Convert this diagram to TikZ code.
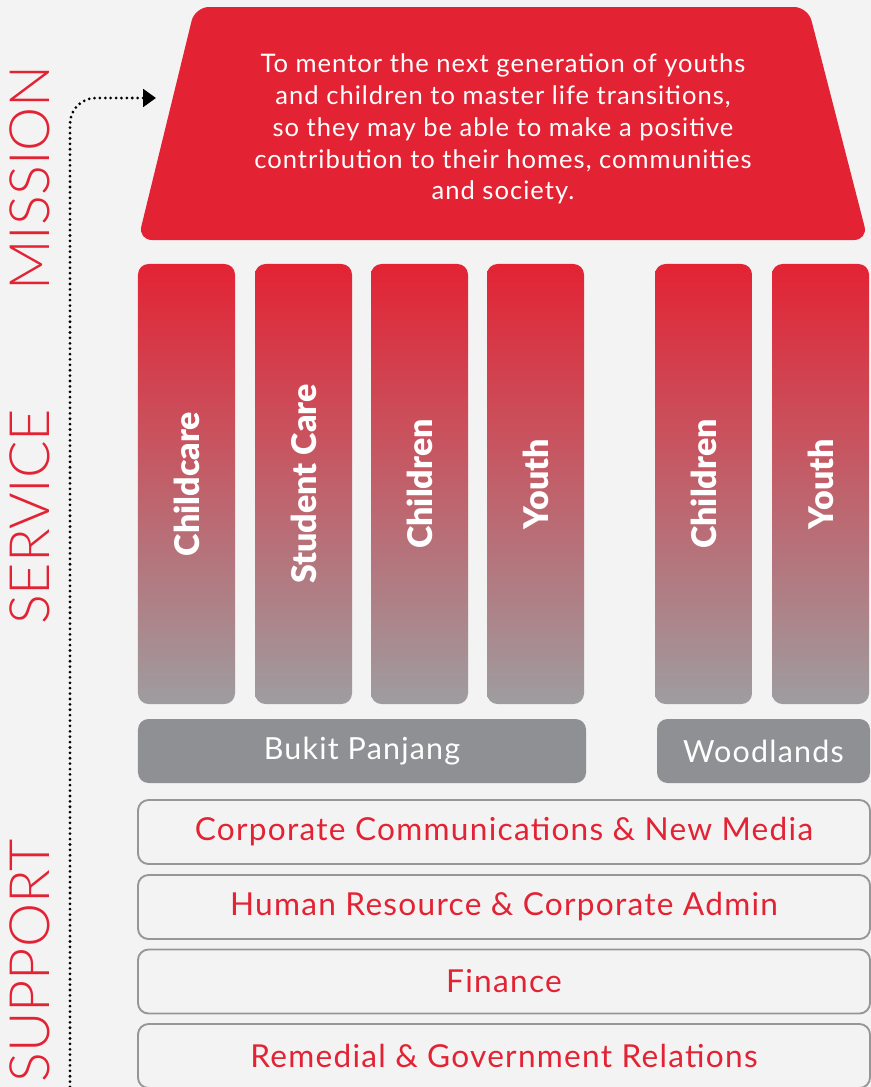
\documentclass[tikz,border=0pt]{standalone}
\usepackage{fontspec}
\setmainfont{Lato}
\newfontfamily\lightfont{Lato Light}
\newfontfamily\widefont[LetterSpace=4]{Lato}
\newfontfamily\heavyfont{Lato Black}
\usepackage{tikz}
\usetikzlibrary{positioning, calc}
\usetikzlibrary{arrows.meta}
\usepackage{xcolor}

\definecolor{mainred}{RGB}{227,35,52}
\definecolor{pinkmid}{RGB}{226,116,130}
\definecolor{pillargray}{RGB}{158,157,160}
\definecolor{basegray}{RGB}{143,144,147}
\definecolor{linegray}{RGB}{150,150,150}
\definecolor{paper}{RGB}{243,243,243}

\begin{document}
\begin{tikzpicture}[
    x=0.03cm, y=-0.03cm,
    every node/.style={align=center},
    pillar/.style={rounded corners=9pt, minimum width=2.91cm, minimum height=13.2cm, inner sep=0pt,
        top color=mainred, middle color=pinkmid, bottom color=pillargray},
    pillartext/.style={rotate=90, text=white, font=\heavyfont\fontsize{29}{32}\selectfont},
    base/.style={rounded corners=9pt, fill=basegray, minimum height=1.92cm, text=white,
        font=\widefont\fontsize{26}{30}\selectfont},
    support/.style={rounded corners=9pt, draw=linegray, line width=1.6pt, minimum width=21.96cm,
        minimum height=1.92cm, text=mainred, font=\widefont\fontsize{27}{30}\selectfont},
    side/.style={rotate=90, text=mainred, inner sep=0pt, font=\lightfont\fontsize{47.5}{48}\selectfont},
    arrow/.style={-{Triangle[length=11pt, width=15pt]}, black, line width=2.6pt,
        dash pattern=on 0pt off 4.6pt, line cap=round, rounded corners=22pt}
]

% Paper
\fill[paper] (0,0) rectangle (871,1087);
\useasboundingbox (0,0) rectangle (871,1087);

% Side labels
\node[side] (mission label) at (30,178) {MISSION};
\node[side] (service label) at (30,517) {SERVICE};
\node[side] (support label) at (30,961) {SUPPORT};

% Roof
\fill[mainred, rounded corners=12pt] (195,7) -- (808,7) -- (868,240) -- (138,240) -- cycle;
\node[text=white, font=\widefont\fontsize{21.8}{27.2}\selectfont] (mission) at (503,129)
    {To mentor the next generation of youths\\and children to master life transitions,\\so they may be able to make a positive\\contribution to their homes, communities\\and society.};

% Pillars
\node[pillar, label={[pillartext]center:Childcare}] (childcare) at (186.5,484) {};
\node[pillar, label={[pillartext]center:Student Care}] (studentcare) at (303.5,484) {};
\node[pillar, label={[pillartext]center:Children}] (bp children) at (419.5,484) {};
\node[pillar, label={[pillartext]center:Youth}] (bp youth) at (535.5,484) {};
\node[pillar, label={[pillartext]center:Children}] (wl children) at (703.5,484) {};
\node[pillar, label={[pillartext]center:Youth}] (wl youth) at (820.5,484) {};

% Centres
\node[base, minimum width=13.44cm] (bukit panjang) at (362,751) {Bukit Panjang};
\node[base, minimum width=6.39cm] (woodlands) at (763.5,751) {Woodlands};

% Support
\node[support] (corpcomms) at (504,832) {Corporate Communications \& New Media};
\node[support] (hr) at (504,907) {Human Resource \& Corporate Admin};
\node[support] (finance) at (504,981.5) {Finance};
\node[support] (remedial) at (504,1056) {Remedial \& Government Relations};

% Arrow
\coordinate (dot start) at (70,1087);
\coordinate (dot end) at (156,98);
\draw[arrow] (dot start) |- (dot end);

\end{tikzpicture}
\end{document}
